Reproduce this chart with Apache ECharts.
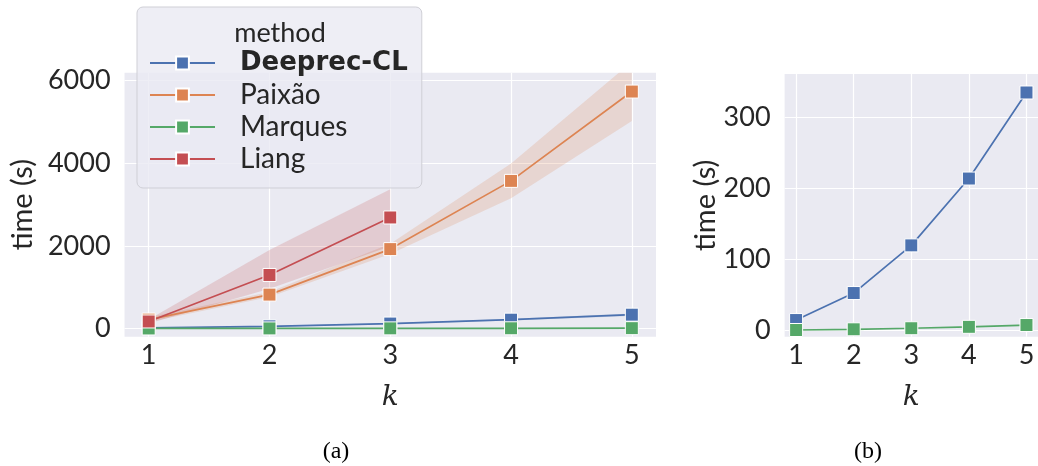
<!DOCTYPE html>
<html>
<head>
<meta charset="utf-8">
<script src="https://cdn.jsdelivr.net/npm/echarts@6/dist/echarts.min.js"></script>
<style>html,body{margin:0;padding:0;background:#fff}#c{width:1038px;height:466px}</style>
</head>
<body>
<div id="c"></div>
<script>
// ---- data ----
const kValues = [1, 2, 3, 4, 5];
const methods = ['Deeprec-CL', 'Paixão', 'Marques', 'Liang'];
const deeprec = [15, 53, 120, 214, 335];
const deeprecLow = [11, 44, 104, 194, 305];
const deeprecHigh = [19, 62, 136, 234, 365];
const paixao = [215, 820, 1920, 3570, 5730];
const paixaoLow = [160, 760, 1800, 3150, 5020];
const paixaoHigh = [270, 885, 2050, 3990, 6450];
const marques = [1, 2, 3.5, 5.5, 8];
const liang = [170, 1295, 2685];
const liangLow = [120, 960, 1990];
const liangHigh = [220, 1900, 3370];
const yTicksA = [0, 2000, 4000, 6000];
const yTicksB = [0, 100, 200, 300];

const colors = {'Deeprec-CL': '#4c72b0', 'Paixão': '#dd8452', 'Marques': '#55a868', 'Liang': '#c44e52'};
const bandColors = {'Deeprec-CL': 'rgba(76,114,176,0.2)', 'Paixão': 'rgba(221,132,82,0.2)', 'Liang': 'rgba(196,78,82,0.2)'};

const pts = (ys) => ys.map((y, i) => [kValues[i], y]);
const FONT = 'Lato';
const TXT = '#262626';

function lineSeries(name, ys, gi) {
  return {
    type: 'line', name, xAxisIndex: gi, yAxisIndex: gi, data: pts(ys),
    symbol: 'rect', symbolSize: 13, showSymbol: true, z: 3,
    lineStyle: {color: colors[name], width: 1.7},
    itemStyle: {color: colors[name], borderColor: '#ffffff', borderWidth: 1},
    emphasis: {disabled: true}, silent: true
  };
}
function bandSeries(name, lows, highs, gi) {
  const data = lows.map((lo, i) => [kValues[i], lo, highs[i]]);
  return {
    type: 'custom', name: name + ' band', xAxisIndex: gi, yAxisIndex: gi, data, clip: true, z: 1, silent: true,
    encode: {x: 0, y: [1, 2]},
    renderItem: (params, api) => {
      if (params.dataIndex !== 0) return null;
      const upper = data.map(d => api.coord([d[0], d[2]]));
      const lower = data.map(d => api.coord([d[0], d[1]])).reverse();
      return {type: 'polygon', shape: {points: upper.concat(lower)}, style: {fill: bandColors[name]}};
    }
  };
}

const axisLabelStyle = {fontFamily: FONT, fontSize: 27, color: TXT, formatter: (v) => String(v)};
function xAxis(gi) {
  return {
    type: 'value', gridIndex: gi, min: 0.8, max: 5.2,
    axisLine: {show: false}, axisTick: {show: false, customValues: kValues},
    axisLabel: Object.assign({customValues: kValues, margin: 5}, axisLabelStyle),
    splitLine: {show: true, lineStyle: {color: '#ffffff', width: 1.2}},
    name: 'k', nameLocation: 'middle', nameGap: 47,
    nameTextStyle: {fontFamily: 'DejaVu Serif', fontStyle: 'italic', fontSize: 28, color: TXT}
  };
}
function yAxis(gi, min, max, ticks, gap) {
  return {
    type: 'value', gridIndex: gi, min, max,
    axisLine: {show: false}, axisTick: {show: false, customValues: ticks},
    axisLabel: Object.assign({customValues: ticks, margin: 14}, axisLabelStyle),
    splitLine: {show: true, lineStyle: {color: '#ffffff', width: 1.2}},
    name: 'time (s)', nameLocation: 'middle', nameGap: gap,
    nameTextStyle: {fontFamily: FONT, fontSize: 29, color: TXT}
  };
}

const series = [];
series.push(bandSeries('Deeprec-CL', deeprecLow, deeprecHigh, 0));
series.push(bandSeries('Paixão', paixaoLow, paixaoHigh, 0));
series.push(bandSeries('Liang', liangLow, liangHigh, 0));
series.push(lineSeries('Deeprec-CL', deeprec, 0));
series.push(lineSeries('Paixão', paixao, 0));
series.push(lineSeries('Marques', marques, 0));
series.push(lineSeries('Liang', liang, 0));
series.push(lineSeries('Deeprec-CL', deeprec, 1));
series.push(lineSeries('Marques', marques, 1));

const chart = echarts.init(document.getElementById('c'), null, {renderer: 'canvas'});
chart.setOption({
  animation: false,
  backgroundColor: '#ffffff',
  grid: [
    {left: 121.7, top: 72.7, width: 534.3, height: 264, show: true, backgroundColor: '#eaeaf2', borderWidth: 0, containLabel: false},
    {left: 784.6, top: 74, width: 257.1, height: 262.7, show: true, backgroundColor: '#eaeaf2', borderWidth: 0, containLabel: false}
  ],
  xAxis: [xAxis(0), xAxis(1)],
  yAxis: [yAxis(0, -198, 6186, yTicksA, 82), yAxis(1, -8.4, 361, yTicksB, 62)],
  legend: {
    data: methods, orient: 'vertical', left: 137, top: 7,
    padding: [42, 14, 15, 12], itemGap: 4, itemWidth: 65, itemHeight: 16,
    backgroundColor: 'rgba(234,234,242,0.8)', borderColor: '#cfcfd6', borderWidth: 1, borderRadius: 6,
    selectedMode: false,
    textStyle: {fontFamily: FONT, fontSize: 28, lineHeight: 28, color: TXT, padding: [0, 0, 0, 20],
      rich: {b: {fontFamily: 'DejaVu Sans', fontSize: 26, lineHeight: 28, fontWeight: 'bold', color: TXT}}},
    formatter: (n) => n === 'Deeprec-CL' ? '{b|' + n + '}' : n
  },
  graphic: [
    {type: 'text', x: 280, y: 33, z: 100, style: {text: 'method', textAlign: 'center', textVerticalAlign: 'middle', fontFamily: FONT, fontSize: 27, fill: TXT}},
    {type: 'text', x: 336, y: 452, z: 100, style: {text: '(a)', textAlign: 'center', textVerticalAlign: 'middle', fontFamily: 'Liberation Serif', fontSize: 24, fill: '#000'}},
    {type: 'text', x: 868, y: 452, z: 100, style: {text: '(b)', textAlign: 'center', textVerticalAlign: 'middle', fontFamily: 'Liberation Serif', fontSize: 24, fill: '#000'}}
  ],
  series
});
</script>
</body>
</html>
